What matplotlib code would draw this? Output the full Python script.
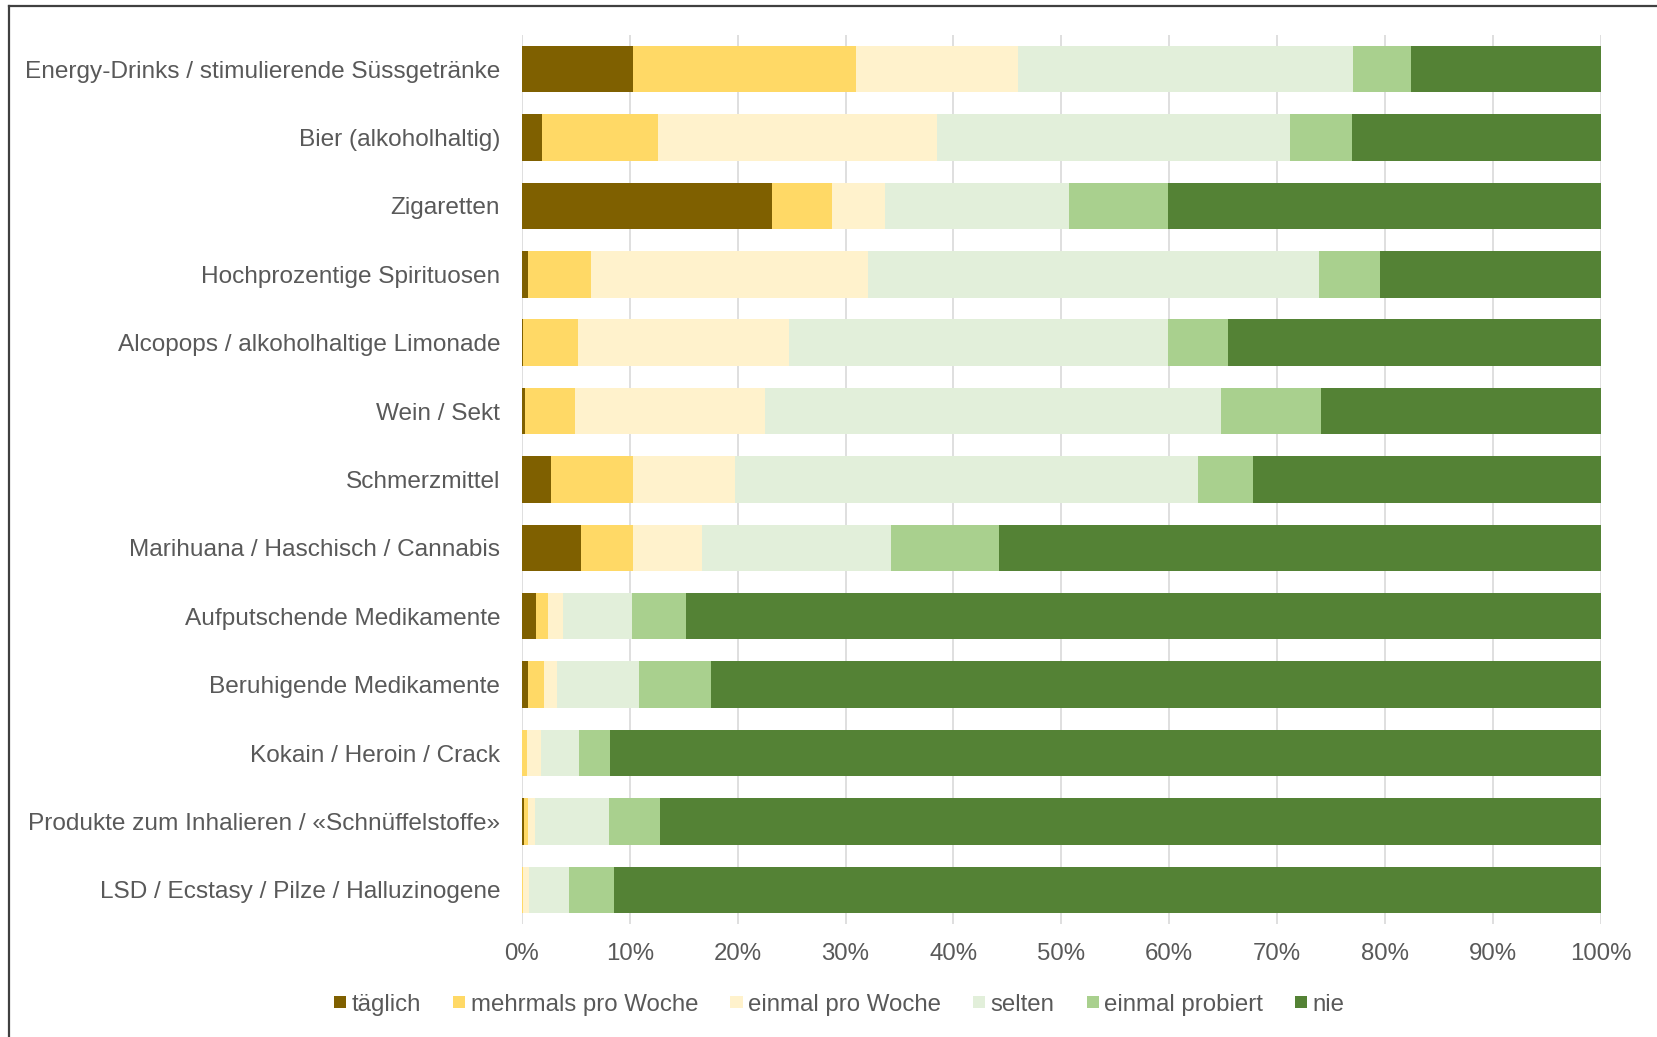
import matplotlib
matplotlib.use("Agg")
import matplotlib.pyplot as plt
from matplotlib.lines import Line2D
import numpy as np

plt.rcParams["font.family"] = ["Liberation Sans", "DejaVu Sans"]

# Substanzen (von oben nach unten)
categories = [
    "Energy-Drinks / stimulierende Süssgetränke",
    "Bier (alkoholhaltig)",
    "Zigaretten",
    "Hochprozentige Spirituosen",
    "Alcopops / alkoholhaltige Limonade",
    "Wein / Sekt",
    "Schmerzmittel",
    "Marihuana / Haschisch / Cannabis",
    "Aufputschende Medikamente",
    "Beruhigende Medikamente",
    "Kokain / Heroin / Crack",
    "Produkte zum Inhalieren / «Schnüffelstoffe»",
    "LSD / Ecstasy / Pilze / Halluzinogene",
]

# Anteile in % pro Häufigkeitsstufe
taeglich = [10.3, 1.9, 23.2, 0.6, 0.1, 0.3, 2.7, 5.5, 1.3, 0.6, 0.0, 0.2, 0.0]
mehrmals = [20.7, 10.7, 5.5, 5.8, 5.1, 4.6, 7.6, 4.8, 1.1, 1.5, 0.5, 0.4, 0.1]
einmal = [15.0, 25.9, 5.0, 25.7, 19.6, 17.6, 9.5, 6.4, 1.4, 1.2, 1.3, 0.6, 0.6]
selten = [31.0, 32.7, 17.0, 41.8, 35.1, 42.3, 42.9, 17.5, 6.4, 7.6, 3.5, 6.9, 3.7]
probiert = [5.4, 5.7, 9.2, 5.6, 5.5, 9.3, 5.1, 10.0, 5.0, 6.6, 2.9, 4.7, 4.1]
nie = [17.6, 23.1, 40.1, 20.5, 34.6, 25.9, 32.2, 55.8, 84.8, 82.5, 91.8, 87.2, 91.5]

series_names = ["täglich", "mehrmals pro Woche", "einmal pro Woche",
                "selten", "einmal probiert", "nie"]
colors = ["#7F6000", "#FFD966", "#FFF2CC", "#E2EFDA", "#A9D08E", "#548235"]
series = [taeglich, mehrmals, einmal, selten, probiert, nie]

GREY = "#595959"
FS = 17.3
fig = plt.figure(figsize=(16.58, 10.37), dpi=100)
ax = fig.add_axes([0.3147, 0.109, 0.6509, 0.8573])

y = np.arange(len(categories))
left = np.zeros(len(categories))
for name, vals, col in zip(series_names, series, colors):
    vals = np.asarray(vals)
    ax.barh(y, vals, left=left, height=0.68, color=col, label=name,
            linewidth=0, zorder=3)
    left += vals

ax.set_xlim(0, 100)
ax.set_ylim(len(categories) - 0.5, -0.5)
ax.set_xticks(np.arange(0, 101, 10))
ax.set_xticklabels([f"{v}%" for v in range(0, 101, 10)])
ax.set_yticks(y)
ax.set_yticklabels(categories)
ax.tick_params(axis="both", length=0, labelsize=FS, labelcolor=GREY)
ax.tick_params(axis="y", pad=15.5, labelsize=17.55)
ax.tick_params(axis="x", pad=14)
ax.grid(axis="x", color="#D9D9D9", linewidth=1.2, zorder=0)
ax.set_axisbelow(True)
for s in ax.spines.values():
    s.set_visible(False)

fig.legend(loc="center", bbox_to_anchor=(0.5063, 0.0313), ncol=6,
           frameon=False, fontsize=FS, labelcolor=GREY,
           handlelength=0.5, handleheight=0.42, handletextpad=0.22,
           columnspacing=1.35)

# Rahmen des Diagrammbereichs (oben und links sichtbar)
fig.add_artist(Line2D([9 / 1658, 1], [1 - 6 / 1037, 1 - 6 / 1037],
                      transform=fig.transFigure, color="#404040", lw=1.6))
fig.add_artist(Line2D([9 / 1658, 9 / 1658], [0, 1 - 6 / 1037],
                      transform=fig.transFigure, color="#404040", lw=1.6))

fig.savefig("out.png", dpi=100)
